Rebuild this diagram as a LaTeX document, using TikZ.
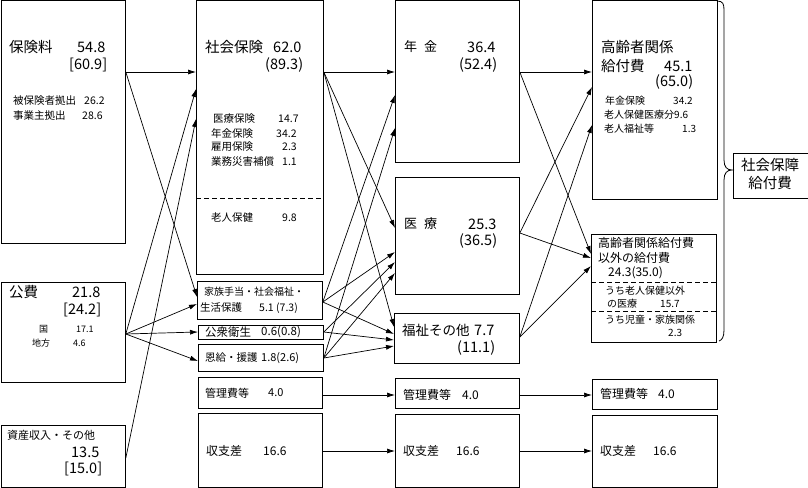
\documentclass[tikz,border=0pt]{standalone}
\usepackage{fontspec}
\setmainfont{Noto Sans CJK JP}
\usetikzlibrary{arrows.meta}
\begin{document}
\begin{tikzpicture}[x=1pt,y=-1pt,
  box/.style={draw, line width=0.8pt, inner sep=0pt, anchor=north west},
  lg/.style={inner sep=0pt, anchor=west, font=\fontsize{14.5}{16}\selectfont},
  md/.style={inner sep=0pt, anchor=west, font=\fontsize{12}{14}\selectfont},
  sm/.style={inner sep=0pt, anchor=west, font=\fontsize{10.5}{12}\selectfont},
  ss/.style={inner sep=0pt, anchor=west, font=\fontsize{10}{12}\selectfont},
  xs/.style={inner sep=0pt, anchor=west, font=\fontsize{9}{11}\selectfont},
  arr/.style={draw, line width=0.7pt, -{Latex[length=8pt,width=5pt]}},
  dsh/.style={draw, line width=0.8pt, dash pattern=on 5pt off 3pt}]
\useasboundingbox (0,0) rectangle (808,487);
% boxes
\node[box, minimum width=124.5pt, minimum height=242.5pt] (hoken) at (0.5,0.5) {};
\node[box, minimum width=124.5pt, minimum height=100pt] (kohi) at (0.5,282) {};
\node[box, minimum width=124.5pt, minimum height=61.5pt] (shisan) at (0.5,425) {};
\node[box, minimum width=127pt, minimum height=273.5pt] (shakai) at (196,0.5) {};
\node[box, minimum width=125pt, minimum height=38pt] (kazoku) at (197,281) {};
\node[box, minimum width=125pt, minimum height=14pt] (koshu) at (198,325) {};
\node[box, minimum width=125pt, minimum height=27pt] (onkyu) at (198,344) {};
\node[box, minimum width=124pt, minimum height=31pt] (kanri2) at (198,377) {};
\node[box, minimum width=124pt, minimum height=73.5pt] (shushi2) at (198,413) {};
\node[box, minimum width=124pt, minimum height=161.5pt] (nenkin) at (395,0.5) {};
\node[box, minimum width=124pt, minimum height=117pt] (iryo) at (395,177) {};
\node[box, minimum width=125pt, minimum height=50pt] (fukushi) at (394,313) {};
\node[box, minimum width=124pt, minimum height=30pt] (kanri3) at (395,378) {};
\node[box, minimum width=124pt, minimum height=72.5pt] (shushi3) at (395,414) {};
\node[box, minimum width=125pt, minimum height=198.5pt] (korei) at (592,0.5) {};
\node[box, minimum width=125pt, minimum height=108pt] (igai) at (591,234) {};
\node[box, minimum width=125pt, minimum height=30pt] (kanri4) at (592,379) {};
\node[box, minimum width=125pt, minimum height=71.5pt] (shushi4) at (592,415) {};
\node[box, minimum width=74.5pt, minimum height=45pt] (hosho) at (733,153) {};
% dashed separators
\draw[dsh] ([yshift=-197.5pt]shakai.north west) -- ([yshift=-197.5pt]shakai.north east);
\draw[dsh] ([yshift=-48pt]igai.north west) -- ([yshift=-48pt]igai.north east);
\draw[dsh] ([yshift=-77pt]igai.north west) -- ([yshift=-77pt]igai.north east);
% brace
\draw[line width=0.8pt] (717,1) .. controls (723,1) and (724,4) .. (724,10) -- (724,160)
  .. controls (724,167) and (727,170) .. (732,170)
  .. controls (727,170) and (724,173) .. (724,180) -- (724,330)
  .. controls (724,337) and (722,340) .. (719,341);
% texts column 1
\node[lg] (a1) at (9,47) {保険料};
\node[lg] (a2) at (77,47) {54.8};
\node[lg] (a3) at (69,65) {[60.9]};
\node[sm] (a4) at (13,101) {被保険者拠出};
\node[sm] (a5) at (84,101) {26.2};
\node[sm] (a6) at (13,116) {事業主拠出};
\node[sm] (a7) at (82,116) {28.6};
\node[lg] (b1) at (9,292) {公費};
\node[lg] (b2) at (72,292) {21.8};
\node[lg] (b3) at (63,310) {[24.2]};
\node[xs] (b4) at (39,329) {国};
\node[xs] (b5) at (76,329) {17.1};
\node[xs] (b6) at (32,343) {地方};
\node[xs] (b7) at (73,343) {4.6};
\node[inner sep=0pt, anchor=west, font=\fontsize{11}{13}\selectfont] (c1) at (7,435) {資産収入・その他};
\node[lg] (c2) at (71,452) {13.5};
\node[lg] (c3) at (64,469) {[15.0]};
% column 2
\node[lg] (d1) at (205,47) {社会保険};
\node[lg] (d2) at (273,47) {62.0};
\node[lg] (d3) at (265,65) {(89.3)};
\node[sm] (d4) at (213,119) {医療保険};
\node[sm] (d5) at (278,119) {14.7};
\node[sm] (d6) at (211,134) {年金保険};
\node[sm] (d7) at (276,134) {34.2};
\node[sm] (d8) at (211,147) {雇用保険};
\node[sm] (d9) at (282,147) {2.3};
\node[sm] (d10) at (211,162) {業務災害補償};
\node[sm] (d11) at (282,162) {1.1};
\node[sm] (d12) at (211,218) {老人保健};
\node[sm] (d13) at (282,218) {9.8};
\node[ss] (e1) at (204,292) {家族手当・社会福祉・};
\node[sm] (e2) at (200,308) {生活保護};
\node[sm] (e3) at (259,308) {5.1 (7.3)};
\node[inner sep=0pt, anchor=west, font=\fontsize{11.5}{13}\selectfont] (e4) at (205,332) {公衆衛生};
\node[inner sep=0pt, anchor=west, font=\fontsize{11.5}{13}\selectfont] (e5) at (261,332) {0.6(0.8)};
\node[sm] (e6) at (205,358) {恩給・援護};
\node[inner sep=0pt, anchor=west, font=\fontsize{11}{13}\selectfont] (e7) at (261,358) {1.8(2.6)};
\node[inner sep=0pt, anchor=west, font=\fontsize{11}{13}\selectfont] (e8) at (205,393) {管理費等};
\node[inner sep=0pt, anchor=west, font=\fontsize{11}{13}\selectfont] (e9) at (268,393) {4.0};
\node[md] (e10) at (206,451) {収支差};
\node[md] (e11) at (263,451) {16.6};
% column 3
\node[inner sep=0pt, anchor=west, font=\fontsize{13}{15}\selectfont] (f1) at (404,47) {年\hspace{7pt}金};
\node[lg] (f2) at (467,47) {36.4};
\node[lg] (f3) at (459,65) {(52.4)};
\node[inner sep=0pt, anchor=west, font=\fontsize{13}{15}\selectfont] (f4) at (404,224) {医\hspace{7pt}療};
\node[lg] (f5) at (468,224) {25.3};
\node[lg] (f6) at (459,241) {(36.5)};
\node[inner sep=0pt, anchor=west, font=\fontsize{13.5}{15}\selectfont] (f7) at (402,330) {福祉その他};
\node[lg] (f8) at (474,330) {7.7};
\node[lg] (f9) at (457,348) {(11.1)};
\node[md] (f10) at (403,395) {管理費等};
\node[md] (f11) at (462,395) {4.0};
\node[md] (f12) at (403,451) {収支差};
\node[md] (f13) at (456,451) {16.6};
% column 4
\node[lg] (g1) at (601,47) {高齢者関係};
\node[lg] (g2) at (601,66) {給付費};
\node[lg] (g3) at (664,66) {45.1};
\node[lg] (g4) at (655,82) {(65.0)};
\node[ss] (g5) at (605,101) {年金保険};
\node[ss] (g6) at (673,101) {34.2};
\node[ss] (g7) at (604,115) {老人保健医療分9.6};
\node[ss] (g8) at (604,129) {老人福祉等};
\node[ss] (g9) at (682,129) {1.3};
\node[md] (h1) at (598,243) {高齢者関係給付費};
\node[md] (h2) at (598,258) {以外の給付費};
\node[md] (h3) at (608,273) {24.3(35.0)};
\node[ss] (h4) at (605,291) {うち老人保健以外};
\node[ss] (h5) at (607,304) {の医療};
\node[ss] (h6) at (660,304) {15.7};
\node[ss] (h7) at (605,320) {うち児童・家族関係};
\node[ss] (h8) at (668,333) {2.3};
\node[md] (i1) at (600,394) {管理費等};
\node[md] (i2) at (658,394) {4.0};
\node[md] (i3) at (600,451) {収支差};
\node[md] (i4) at (653,451) {16.6};
\node[lg, anchor=center] (j1) at (770,165) {社会保障};
\node[lg, anchor=center] (j2) at (770,183) {給付費};
% arrows column 1 -> 2
\draw[arr] ([yshift=-71.5pt]hoken.north east) -- ([yshift=-71.5pt]shakai.north west);
\draw[arr] ([yshift=-71.5pt]hoken.north east) -- ([yshift=-16pt]kazoku.north west);
\draw[arr] ([yshift=-52pt]kohi.north east) -- ([yshift=-88.5pt]shakai.north west);
\draw[arr] ([yshift=-52pt]kohi.north east) -- ([yshift=-23pt]kazoku.north west);
\draw[arr] ([yshift=-52pt]kohi.north east) -- ([yshift=-7pt]koshu.north west);
\draw[arr] ([yshift=-52pt]kohi.north east) -- ([yshift=-17pt]onkyu.north west);
\draw[arr] ([yshift=-33pt]shisan.north east) -- ([yshift=-118.5pt]shakai.north west);
% arrows column 2 -> 3
\draw[arr] ([yshift=-71.5pt]shakai.north east) -- ([yshift=-71.5pt]nenkin.north west);
\draw[arr] ([yshift=-71.5pt]shakai.north east) -- ([yshift=-51pt]iryo.north west);
\draw[arr] ([yshift=-71.5pt]shakai.north east) -- ([yshift=-14pt]fukushi.north west);
\draw[arr] ([yshift=-21pt]kazoku.north east) -- ([yshift=-94.5pt]nenkin.north west);
\draw[arr] ([yshift=-21pt]kazoku.north east) -- ([yshift=-75pt]iryo.north west);
\draw[arr] ([yshift=-21pt]kazoku.north east) -- ([yshift=-21pt]fukushi.north west);
\draw[arr] ([yshift=-7pt]koshu.north east) -- ([yshift=-85pt]iryo.north west);
\draw[arr] ([yshift=-7pt]koshu.north east) -- ([yshift=-27pt]fukushi.north west);
\draw[arr] ([yshift=-14pt]onkyu.north east) -- ([yshift=-127.5pt]nenkin.north west);
\draw[arr] ([yshift=-14pt]onkyu.north east) -- ([yshift=-96pt]iryo.north west);
\draw[arr] ([yshift=-14pt]onkyu.north east) -- ([yshift=-33pt]fukushi.north west);
\draw[arr] ([yshift=-18pt]kanri2.north east) -- ([yshift=-17pt]kanri3.north west);
\draw[arr] ([yshift=-38pt]shushi2.north east) -- ([yshift=-37pt]shushi3.north west);
% arrows column 3 -> 4
\draw[arr] ([yshift=-71.5pt]nenkin.north east) -- ([yshift=-71.5pt]korei.north west);
\draw[arr] ([yshift=-71.5pt]nenkin.north east) -- ([yshift=-20pt]igai.north west);
\draw[arr] ([yshift=-56pt]iryo.north east) -- ([yshift=-86.5pt]korei.north west);
\draw[arr] ([yshift=-56pt]iryo.north east) -- ([yshift=-24pt]igai.north west);
\draw[arr] ([yshift=-24pt]fukushi.north east) -- ([yshift=-124.5pt]korei.north west);
\draw[arr] ([yshift=-24pt]fukushi.north east) -- ([yshift=-32pt]igai.north west);
\draw[arr] ([yshift=-17pt]kanri3.north east) -- ([yshift=-16pt]kanri4.north west);
\draw[arr] ([yshift=-37pt]shushi3.north east) -- ([yshift=-36pt]shushi4.north west);
\end{tikzpicture}
\end{document}
